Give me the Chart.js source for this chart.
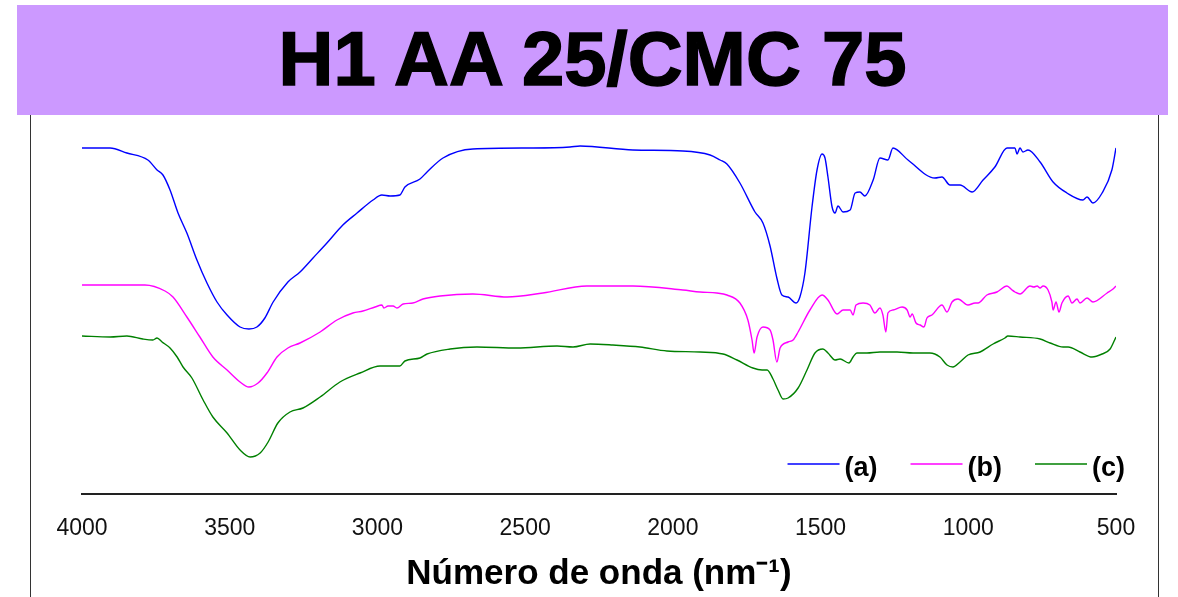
<!DOCTYPE html>
<html>
<head>
<meta charset="utf-8">
<script src="https://cdn.jsdelivr.net/npm/chart.js@4/dist/chart.umd.min.js"></script>
<style>
  html, body { margin: 0; padding: 0; background: #fff; }
  #frame { position: absolute; left: 30px; top: 115px; width: 1129px; height: 482px;
           border-left: 1px solid #333; border-right: 1px solid #333; box-sizing: border-box; }
  #band { position: absolute; left: 17px; top: 5px; width: 1151px; height: 110px; background: #cc99ff; z-index: 2; }
  #band span { position: absolute; left: 0; right: 0; top: 10px; line-height: 76px; text-align: center;
               font: bold 76px 'Liberation Sans', Arial, sans-serif; color: #000; -webkit-text-stroke: 1.5px #000; }
  #wrap { position: absolute; left: 0; top: 0; width: 1178px; height: 597px; z-index: 1; }
</style>
</head>
<body>
<div id="frame"></div>
<div id="wrap"><canvas id="c"></canvas></div>
<div id="band"><span>H1 AA 25/CMC 75</span></div>
<script>
// ---- Data (wavenumber, relative transmittance) ----
const seriesLabels = ['(a)', '(b)', '(c)'];
const seriesColors = ['#0000ff', '#ff00ff', '#008000'];

const wnA = [4000,3905,3848,3777,3746,3726,3702,3675,3645,3611,3577,3543,3509,3465,3435,3408,3381,3353,3303,3262,3218,3171,3117,3069,3015,2985,2957,2924,2907,2856,2832,2778,2677,2473,2348,2314,2135,1966,1874,1840,1817,1773,1722,1695,1671,1648,1631,1610,1583,1570,1553,1529,1512,1495,1485,1475,1461,1451,1441,1424,1400,1383,1367,1350,1322,1299,1272,1255,1204,1113,1089,1062,1028,987,950,910,869,842,835,825,815,798,757,713,666,612,598,578,547,514,500];
const tA  = [86.5,86.5,85.25,83.5,81,79.75,76,70.25,65.25,58.5,52.75,48,44.75,41.75,41.25,41.75,44,48,53,55.5,59,62.75,67.25,70.25,73.5,74.75,74.5,74.75,76.75,78.75,80.5,84,86.25,86.5,86.75,87,86,85.75,84.75,83.5,82.5,77.75,70.5,67.75,62,54,49.75,49.25,47.75,49.25,55.25,71.75,81,85,84,79.25,71.75,70.25,72,70.5,71,75.25,75.5,74.5,78.5,84,83.5,86.5,83.5,79,79.25,77.25,77.25,75.5,78.5,81.75,86.5,86.5,85,86.5,85.5,86,83,78,75.25,73.5,74.25,72.75,75.25,81,86.5];

const wnB = [4000,3787,3719,3692,3645,3601,3557,3509,3465,3435,3404,3374,3340,3303,3262,3194,3137,3083,3049,3008,2985,2978,2964,2947,2934,2913,2880,2846,2788,2677,2561,2440,2291,2135,1966,1908,1851,1817,1773,1746,1732,1725,1715,1695,1671,1661,1648,1637,1610,1593,1576,1536,1495,1475,1444,1424,1400,1390,1380,1356,1333,1316,1299,1289,1279,1272,1255,1224,1207,1197,1190,1177,1163,1150,1140,1123,1089,1072,1055,1035,1001,977,967,937,903,869,852,842,825,791,778,767,757,747,730,717,713,703,693,683,662,649,632,622,598,578,530,510,500];
const tB  = [52.25,52.25,50.75,49.25,44.25,39.25,34.25,31,28,26.75,27.75,30.25,34.25,36.5,37.75,40.5,43.5,45.25,45.75,46.75,47.25,46.5,47,47,46.5,47.5,47.75,48.75,49.5,50,49.25,50.25,52,52,51,50.5,50.25,49.75,47.75,43.5,38.5,35.25,39.25,41.75,41,38.5,33,36.5,38,38.5,40.5,46,49.75,48.5,45,46,46,44.75,47.25,47.75,47.25,45.25,46.5,44.75,40.5,45.25,46,46.75,46,44.25,45,42.75,42.25,41.75,44,44.75,47.25,45.5,48,48.75,47.25,47.75,47.75,49.75,50.5,52,51,50.5,50,52,51.75,52,51.5,52,51,48,46,48,45.5,47.75,49.5,47.75,48.75,47.75,49,48,50.25,51.25,52];

const wnC = [4000,3905,3848,3794,3760,3746,3729,3702,3678,3658,3628,3590,3557,3509,3465,3431,3397,3370,3337,3296,3252,3194,3127,3059,2991,2924,2907,2856,2832,2754,2663,2528,2392,2338,2280,2203,2111,2020,1908,1830,1783,1729,1698,1681,1661,1644,1627,1610,1576,1546,1519,1492,1475,1451,1434,1404,1390,1377,1343,1299,1241,1187,1130,1096,1072,1052,1028,1001,960,916,876,866,825,757,723,679,662,622,581,547,520,500];
const tC  = [39.5,39.25,39.5,38.75,38.5,39,38,36.5,34.25,31.75,29,23.5,19.25,15.25,11,9.25,10.25,13,17.75,20.5,21.5,24.25,28,30.25,32,32,33.25,34,35,36.25,36.75,36.5,37,36.75,37.5,37.25,36.75,35.75,35.5,35,33.5,31.5,31,31,28.75,26,23.75,24,26.5,31,35.25,36.25,35.25,33.5,33.75,32.75,34.25,35.25,35.25,35.5,35.5,35.25,35.25,34.25,32.25,31.75,33,34.75,35.5,37.5,39,39.5,39.25,38.75,37.75,36.75,36.75,35.5,34.25,35,36.25,39.25];

const xMin = 500, xMax = 4000, xStep = 500;
const yMin = 0, yMax = 91;

// ---- Build chart ----
const pts = (w, t) => w.map((x, i) => ({ x: x, y: t[i] }));
const fontFam = "'Liberation Sans Narrow', 'Arial Narrow', 'Liberation Sans', Arial, sans-serif";

const insideLegend = {
  id: 'insideLegend',
  afterDraw(chart) {
    const c = chart.ctx, area = chart.chartArea;
    c.save();
    c.font = "bold 27px " + fontFam;
    const lineLen = 52, gap = 5, itemGap = 33;
    const items = chart.data.datasets.map(d => ({ label: d.label, color: d.borderColor, w: c.measureText(d.label).width }));
    const total = items.reduce((s, it) => s + lineLen + gap + it.w, 0) + itemGap * (items.length - 1);
    let x = area.right + 9 - total;
    const yLine = area.bottom - 30, yText = area.bottom - 18;
    items.forEach(it => {
      c.strokeStyle = it.color; c.lineWidth = 1.5;
      c.beginPath(); c.moveTo(x, yLine); c.lineTo(x + lineLen, yLine); c.stroke();
      c.fillStyle = '#000'; c.textBaseline = 'alphabetic'; c.textAlign = 'left';
      c.fillText(it.label, x + lineLen + gap, yText);
      x += lineLen + gap + it.w + itemGap;
    });
    c.restore();
  }
};

new Chart(document.getElementById('c'), {
  type: 'line',
  data: {
    datasets: [
      { label: seriesLabels[0], data: pts(wnA, tA), borderColor: seriesColors[0] },
      { label: seriesLabels[1], data: pts(wnB, tB), borderColor: seriesColors[1] },
      { label: seriesLabels[2], data: pts(wnC, tC), borderColor: seriesColors[2] }
    ]
  },
  options: {
    responsive: true,
    maintainAspectRatio: false,
    animation: false,
    layout: { padding: { left: 82, right: 62, top: 130, bottom: 2 } },
    elements: { point: { radius: 0 }, line: { borderWidth: 1.4, cubicInterpolationMode: 'monotone', fill: false } },
    plugins: { legend: { display: false }, tooltip: { enabled: false } },
    scales: {
      x: {
        type: 'linear', reverse: true, min: xMin, max: xMax,
        grid: { display: false, drawTicks: false },
        border: { display: true, color: '#222', width: 2 },
        ticks: { stepSize: xStep, padding: 21, color: '#111', autoSkip: false, maxRotation: 0,
                 font: { family: fontFam, size: 23 }, callback: v => String(v) },
        title: { display: true, text: 'Número de onda (nm⁻¹)', color: '#000',
                 font: { family: fontFam, size: 35, weight: 'bold' }, padding: { top: 0, bottom: 0 } },
        afterFit: (scale) => { scale.height = 101; }
      },
      y: { display: false, min: yMin, max: yMax }
    }
  },
  plugins: [insideLegend]
});
</script>
</body>
</html>
